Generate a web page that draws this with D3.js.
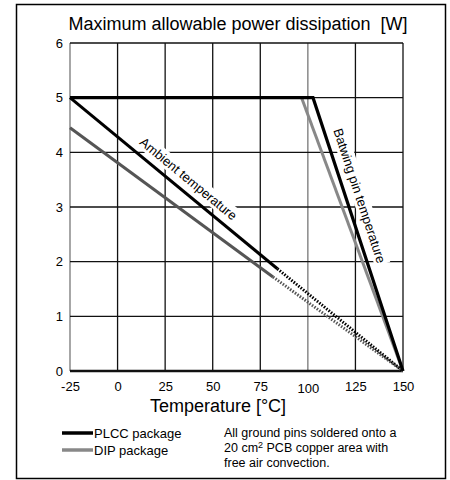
<!DOCTYPE html>
<html><head><meta charset="utf-8">
<script src="https://cdn.jsdelivr.net/npm/d3@7"></script>
<style>body{margin:0;background:#fff;} text{font-family:"Liberation Sans",Arial,sans-serif;white-space:pre;}</style>
</head><body>
<svg id="c" width="450" height="480"></svg>
<script>
const xTicks = [-25, 0, 25, 50, 75, 100, 125, 150];
const yTicks = [0, 1, 2, 3, 4, 5, 6];
// PLCC package (black)
const plccBatwing = [[-25, 5], [102.7, 5], [150, 0]];
const plccAmbientSolid = [[-25, 5], [84, 1.87]];
const plccAmbientDotted = [[84, 1.87], [150, 0]];
// DIP package (gray)
const dipBatwing = [[96.7, 5], [150, 0]];
const dipAmbientSolid = [[-25, 4.45], [81.7, 1.72]];
const dipAmbientDotted = [[81.7, 1.72], [150, 0]];

const svg = d3.select("#c");
const x = d3.scaleLinear().domain([-25, 150]).range([70, 403]);
const y = d3.scaleLinear().domain([0, 6]).range([371, 43]);
const line = d3.line().x(d => x(d[0])).y(d => y(d[1]));
const fmt = d => String(d);

svg.append("rect").attr("x", 16.5).attr("y", 4.5).attr("width", 429).attr("height", 474)
  .attr("fill", "none").attr("stroke", "#000").attr("stroke-width", 1.5);

svg.append("text").attr("x", 238).attr("y", 30).attr("text-anchor", "middle")
  .attr("font-size", 18).text("Maximum allowable power dissipation  [W]");

// grid
const g = svg.append("g");
g.selectAll(".v").data(xTicks).join("line")
  .attr("x1", d => x(d)).attr("x2", d => x(d)).attr("y1", y(6)).attr("y2", y(0))
  .attr("stroke", d => (d === 100 || d === -25) ? "#777" : "#111").attr("stroke-width", 1.3);
g.selectAll(".h").data(yTicks).join("line")
  .attr("x1", x(-25)).attr("x2", x(150)).attr("y1", d => y(d)).attr("y2", d => y(d))
  .attr("stroke", "#111").attr("stroke-width", d => d === 0 ? 2.5 : 1.3);

// axes labels
const xAxis = svg.append("g").attr("transform", `translate(0,${y(0)})`)
  .call(d3.axisBottom(x).tickValues(xTicks).tickFormat(fmt).tickSize(0).tickPadding(10));
xAxis.select(".domain").remove();
xAxis.selectAll("text").attr("font-size", 13).attr("font-family", "Liberation Sans, Arial, sans-serif").attr("fill", "#000")
  .attr("dy", d => d === 100 ? "0.95em" : "0.75em");
const yAxis = svg.append("g").attr("transform", `translate(${x(-25)},0)`)
  .call(d3.axisLeft(y).tickValues(yTicks).tickFormat(fmt).tickSize(0).tickPadding(7));
yAxis.select(".domain").remove();
yAxis.selectAll("text").attr("font-size", 13).attr("font-family", "Liberation Sans, Arial, sans-serif").attr("fill", "#000");

svg.append("text").attr("x", 218).attr("y", 412).attr("text-anchor", "middle")
  .attr("font-size", 18).text("Temperature [°C]");

// curve labels with white boxes (hide grid behind them)
function curveLabel(seg, pt, off, txt) {
  const ang = Math.atan2(y(seg[1][1]) - y(seg[0][1]), x(seg[1][0]) - x(seg[0][0])) * 180 / Math.PI;
  const grp = svg.append("g").attr("transform", `translate(${x(pt[0])},${y(pt[1])}) rotate(${ang})`);
  const rect = grp.append("rect").attr("fill", "#fff");
  const t = grp.append("text").attr("y", off).attr("text-anchor", "middle").attr("font-size", 13).text(txt);
  const bb = t.node().getBBox();
  rect.attr("x", bb.x - 2).attr("y", bb.y - 1).attr("width", bb.width + 4).attr("height", bb.height + 1);
}
curveLabel(plccAmbientSolid, [33, 3.34], -8, "Ambient temperature");
curveLabel([plccBatwing[1], plccBatwing[2]], [120.4, 3.13], -9, "Batwing pin temperature");

// data lines
const lines = svg.append("g").attr("fill", "none");
lines.append("path").attr("d", line(dipAmbientSolid)).attr("stroke", "#555").attr("stroke-width", 3);
lines.append("path").attr("d", line(dipAmbientDotted)).attr("stroke", "#555").attr("stroke-width", 3).attr("stroke-dasharray", "1.5,1.5");
lines.append("path").attr("d", line(dipBatwing)).attr("stroke", "#888").attr("stroke-width", 3);
lines.append("path").attr("d", line(plccAmbientSolid)).attr("stroke", "#000").attr("stroke-width", 3);
lines.append("path").attr("d", line(plccAmbientDotted)).attr("stroke", "#000").attr("stroke-width", 3).attr("stroke-dasharray", "1.5,1.5");
lines.append("path").attr("d", line(plccBatwing)).attr("stroke", "#000").attr("stroke-width", 3.2).attr("stroke-linejoin", "miter");

// legend
const legend = [{name: "PLCC package", color: "#000"}, {name: "DIP package", color: "#888"}];
const lg = svg.append("g");
legend.forEach((d, i) => {
  const yy = 433 + i * 17;
  lg.append("line").attr("x1", 62).attr("x2", 93).attr("y1", yy).attr("y2", yy).attr("stroke", d.color).attr("stroke-width", 3.5);
  lg.append("text").attr("x", 94).attr("y", yy + 5).attr("font-size", 13).text(d.name);
});
const note = svg.append("text").attr("font-size", 12.5);
note.append("tspan").attr("x", 224).attr("y", 437).text("All ground pins soldered onto a");
note.append("tspan").attr("x", 224).attr("y", 452).text("20 cm");
note.append("tspan").attr("font-size", 9).attr("dy", -4).text("2");
note.append("tspan").attr("dy", 4).text(" PCB copper area with");
note.append("tspan").attr("x", 224).attr("y", 467).text("free air convection.");
</script>
</body></html>
